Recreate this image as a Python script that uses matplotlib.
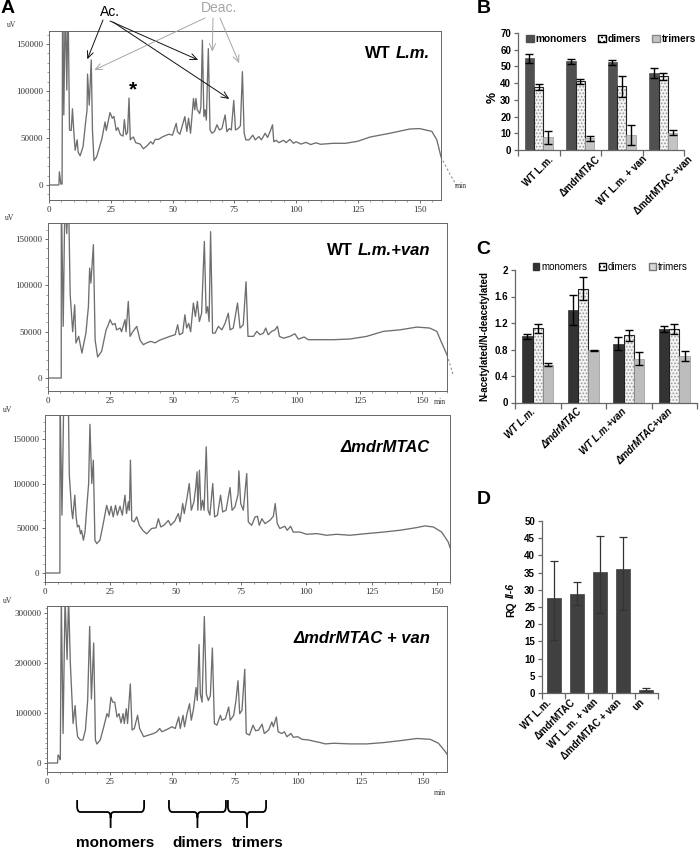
import matplotlib
matplotlib.use('Agg')
import matplotlib.pyplot as plt
import matplotlib.transforms as mtransforms
from matplotlib.patches import Patch, PathPatch
from matplotlib.path import Path
from matplotlib.ticker import MultipleLocator, FormatStrFormatter
import numpy as np

plt.rcParams['font.family'] = ['Liberation Sans', 'DejaVu Sans']
plt.rcParams['hatch.linewidth'] = 0.8

# ---------------- chromatogram data (time in min, signal in uV) ----------------
wt_t = [0, 4.0, 4.2, 4.8, 5.3, 5.5, 6.0, 6.6, 7.2, 7.7, 8.3, 9.0, 9.5, 10.0, 10.6, 11.4, 11.8, 12.6, 13.8, 14.8,
        15.4, 15.6, 16.3, 17.1, 17.6, 18.2, 19.3, 21.4, 22.7, 23.2, 24.7, 25.6, 26.3, 27.2, 27.9, 28.9, 30.0, 30.5,
        31.2, 31.8, 32.4, 32.9, 33.6, 34.2, 35.1, 36.9, 38.2, 39.6, 41.2, 42.1, 43.0, 44.4, 45.8, 47.1, 48.5, 50.0,
        51.5, 52.0, 53.0, 55.0, 55.8, 56.5, 57.3, 58.5, 59.0, 59.5, 60.0, 61.0, 61.5, 62.1, 62.7, 63.2, 63.7, 64.5,
        65.2, 66.0, 67.0, 68.0, 69.0, 70.0, 71.3, 72.0, 73.0, 73.8, 74.8, 75.5, 76.5, 77.5, 78.3, 79.0, 79.7, 81.0,
        82.5, 83.5, 85.0, 86.0, 87.5, 88.5, 89.5, 90.5, 91.0, 92.0, 93.0, 95.0, 96.0, 97.5, 99.0, 100.0, 102.0,
        104.0, 106.0, 108.0, 110.0, 115.0, 120.0, 125.0, 130.0, 138.0, 146.0, 150.0, 155.0, 157.0, 158.7]
wt_uv = [0, 0, 14000, 1000, 1000, 200000, 74500, 200000, 101000, 200000, 58500, 58000, 81000, 58500, 37000, 48000,
         35000, 31000, 41000, 66000, 80000, 118000, 85000, 133000, 58000, 26000, 30000, 49000, 67000, 58000, 77000,
         71000, 73000, 58000, 61000, 53500, 52000, 69500, 53500, 56000, 92500, 48000, 50000, 51000, 45000, 43500,
         38500, 41500, 46000, 43500, 48500, 48500, 51000, 52500, 54000, 53000, 65600, 56700, 54000, 72700, 57000,
         71000, 55000, 92000, 80000, 92000, 80000, 76000, 83000, 154000, 72700, 80000, 69000, 145000, 58500, 55000,
         57000, 64000, 58500, 60000, 74500, 56700, 60000, 58500, 90000, 58500, 60000, 63000, 120500, 55000, 48000,
         48000, 53000, 48000, 51500, 48000, 55000, 50500, 56700, 64000, 46000, 47500, 45000, 47500, 45000, 48500,
         44300, 46000, 43500, 45300, 43000, 44800, 43300, 44300, 44300, 46500, 51000, 55000, 59500, 60000, 57000,
         48000, 30000]
wt_tail_t = [158.7, 162.0, 165.5]
wt_tail_uv = [30000, 13000, -3000]

van_t = [0, 5.3, 5.35, 6.1, 6.8, 7.5, 8.2, 8.9, 9.9, 10.7, 11.2, 12.3, 13.6, 15.2, 16.2, 16.7, 17.2, 18.2, 18.9,
         19.9, 21.5, 23.3, 24.2, 24.9, 25.9, 26.9, 27.5, 28.9, 29.5, 30.9, 31.3, 32.2, 32.9, 34.0, 35.6, 36.9, 38.2,
         39.6, 41.2, 42.9, 44.9, 46.9, 48.9, 51.0, 52.0, 52.7, 54.0, 54.9, 55.6, 56.4, 57.2, 58.3, 59.1, 59.9, 60.7,
         61.6, 62.7, 63.4, 64.0, 64.6, 65.2, 66.0, 67.0, 68.3, 69.7, 71.0, 72.3, 73.0, 74.3, 76.0, 77.0, 78.3, 79.4,
         80.2, 82.4, 83.7, 85.0, 86.4, 87.3, 88.3, 89.7, 91.0, 92.0, 92.8, 94.4, 97.0, 99.0, 100.4, 102.7, 104.4,
         107.8, 114.4, 121.0, 127.8, 134.5, 141.0, 147.9, 153.0, 155.9, 157.9, 160.0]
van_uv = [0, 0, 200000, 55800, 200000, 156000, 200000, 90000, 50000, 79000, 37800, 45000, 27000, 48500, 77000,
          118700, 102500, 144000, 41000, 22700, 28800, 52000, 57500, 63000, 57500, 59000, 52000, 54000, 50000, 63000,
          50000, 82700, 45000, 50000, 55800, 41000, 36000, 38000, 39600, 38000, 41000, 43000, 45000, 46800, 57500,
          46800, 48500, 68300, 54000, 59000, 50000, 81000, 66500, 82700, 61000, 70000, 147500, 70000, 77000, 61000,
          158000, 48500, 48500, 55800, 52000, 59000, 70000, 52000, 54000, 81000, 54000, 57500, 104000, 45000, 45000,
          50400, 46800, 48500, 54000, 46800, 50400, 52000, 55800, 45000, 43000, 45000, 47800, 42000, 44300, 41400,
          41400, 41400, 42100, 45000, 50400, 52000, 55000, 54000, 50400, 37800, 25000]
van_tail_t = [160.0, 161.5, 162.5]
van_tail_uv = [25000, 12000, 3000]

mdr_t = [0, 5.7, 5.75, 6.5, 7.2, 7.9, 8.9, 9.3, 10.2, 10.6, 11.4, 11.9, 12.4, 13.0, 13.6, 14.0, 14.7, 15.3, 16.2,
         16.7, 17.2, 17.9, 18.5, 19.1, 19.8, 21.0, 22.3, 23.6, 24.6, 25.3, 26.1, 27.0, 27.7, 28.7, 29.6, 30.6, 31.2,
         31.9, 32.3, 32.7, 33.2, 34.1, 35.1, 36.1, 37.4, 38.9, 40.8, 42.5, 43.4, 44.3, 45.5, 47.2, 48.1, 49.7, 51.0,
         51.7, 52.7, 53.3, 54.2, 55.2, 56.0, 57.0, 57.7, 58.2, 58.5, 59.1, 59.7, 60.3, 60.9, 61.7, 62.4, 63.1, 64.2,
         64.9, 66.0, 67.2, 68.0, 69.3, 70.8, 71.6, 72.7, 73.9, 74.2, 74.9, 75.9, 77.2, 77.8, 79.1, 80.4, 81.3, 82.0,
         83.0, 84.2, 86.1, 87.4, 88.1, 88.9, 89.9, 91.8, 92.7, 94.0, 95.0, 97.6, 100.1, 104.0, 107.8, 111.6, 116.7,
         123.0, 129.5, 135.8, 142.2, 145.4, 148.6, 151.8, 154.3, 155.6]
mdr_uv = [0, 0, 200000, 65000, 200000, 200000, 200000, 110000, 70500, 61000, 87400, 63000, 51800, 53600, 44000,
          47800, 36800, 46000, 81750, 100500, 167000, 100500, 126700, 36750, 33000, 36750, 55500, 76000, 65000,
          75000, 63000, 76000, 65000, 75000, 65000, 87400, 66750, 80000, 70500, 126750, 59250, 57400, 63000, 53600,
          48000, 44000, 50000, 50800, 61000, 51800, 53600, 59000, 53600, 58500, 66750, 57400, 78000, 66750, 81750,
          100500, 70500, 80000, 96750, 113600, 70500, 115500, 70500, 81750, 70500, 141750, 70500, 65000, 100500,
          63000, 65000, 87400, 68600, 70500, 96000, 70500, 74250, 88500, 114750, 78000, 70500, 111750, 57400, 53600,
          63000, 63750, 53600, 61000, 55500, 59250, 63750, 78000, 55500, 50000, 52500, 48000, 52500, 46000, 46000,
          43500, 44250, 42400, 43500, 42400, 44250, 46000, 48000, 51000, 52900, 51750, 46000, 35000, 23600]

mdrvan_t = [0, 4.2, 4.4, 4.9, 5.3, 5.7, 6.4, 7.2, 8.0, 8.6, 9.3, 10.4, 11.2, 11.7, 12.2, 13.3, 14.3, 15.3, 16.2,
            17.0, 17.7, 18.6, 19.3, 19.9, 21.2, 22.6, 23.9, 24.6, 25.5, 26.2, 27.0, 27.9, 28.7, 29.5, 30.3, 30.8,
            31.6, 32.1, 33.2, 33.9, 34.8, 36.1, 36.9, 38.5, 40.5, 42.5, 43.8, 44.9, 45.8, 47.8, 49.8, 51.1, 52.5,
            53.1, 54.2, 54.8, 55.8, 56.8, 57.5, 58.4, 59.4, 59.9, 60.6, 61.1, 61.8, 62.7, 63.5, 64.3, 65.1, 65.9,
            66.7, 67.7, 69.1, 69.7, 71.1, 72.4, 73.0, 74.4, 75.3, 76.1, 76.8, 77.7, 78.8, 79.4, 80.7, 82.1, 83.1,
            84.3, 85.7, 86.6, 88.3, 89.6, 90.2, 91.4, 92.1, 93.6, 94.6, 95.6, 97.2, 98.2, 99.9, 101.6, 104.3, 107.0,
            108.9, 110.9, 114.2, 120.8, 127.5, 134.1, 140.8, 147.4, 152.7, 156.0, 158.7, 160.0]
mdrvan_uv = [0, 0, 16000, 13000, 6500, 330000, 59000, 330000, 207000, 330000, 200000, 79000, 115000, 75700, 52600,
             46000, 46000, 65800, 125000, 273000, 128000, 240000, 46000, 38000, 46000, 72000, 98700, 92000, 131600,
             121700, 121700, 92000, 98700, 80000, 98700, 79000, 108600, 79000, 158000, 66000, 69000, 95400, 69000,
             52600, 55900, 59000, 62500, 69000, 62500, 67100, 72400, 69000, 92000, 69000, 95400, 72400, 98700,
             118500, 85500, 108600, 151000, 125000, 237000, 138000, 121700, 293000, 138000, 125000, 135000, 230000,
             79000, 75700, 95400, 85500, 88800, 112000, 85500, 95400, 125000, 164500, 98700, 105300, 187500, 59000,
             55900, 75700, 64500, 65800, 77600, 59000, 65800, 82000, 72400, 92000, 62500, 59000, 62500, 52600, 59000,
             51300, 52600, 47400, 46000, 42800, 40800, 38200, 39500, 38200, 38200, 40800, 44700, 49000, 47400, 39500,
             23000, 13000]

time_ticks = [0, 25, 50, 75, 100, 125, 150]

# annotation targets on the first chromatogram (time, uV)
ac_targets = [(15.5, 133700), (60.4, 133000), (73.0, 91500)]
deac_targets = [(18.3, 122300), (66.1, 141800), (77.0, 129500)]
star_pos = (34.0, 101000)

# fraction ranges (min) for braces and label centres (min)
brace_names = ['monomers', 'dimers', 'trimers']
brace_ranges = [(12.0, 38.7), (48.6, 71.3), (72.1, 87.3)]
brace_label_t = [27.3, 60.0, 84.1]

# ---------------- bar chart data ----------------
b_labels = ['WT L.m.', 'ΔmdrMTAC', 'WT L.m. + van', 'ΔmdrMTAC +van']
b_mono = [55.0, 53.0, 52.4, 46.0]
b_mono_err = [2.7, 1.6, 1.5, 3.0]
b_di = [37.6, 41.0, 38.0, 44.0]
b_di_err = [2.0, 1.4, 6.5, 2.0]
b_tri = [7.6, 7.0, 9.0, 10.4]
b_tri_err = [4.0, 1.4, 6.0, 1.5]

c_labels = ['WT L.m.', 'ΔmdrMTAC', 'WT L.m.+van', 'ΔmdrMTAC+van']
c_mono = [1.0, 1.4, 0.89, 1.11]
c_mono_err = [0.035, 0.23, 0.10, 0.05]
c_di = [1.12, 1.72, 1.015, 1.11]
c_di_err = [0.07, 0.18, 0.086, 0.08]
c_tri = [0.57, 0.785, 0.66, 0.70]
c_tri_err = [0.02, 0.01, 0.10, 0.075]

d_labels = ['WT L.m.', 'ΔmdrMTAC', 'WT L.m. + van', 'ΔmdrMTAC + van', 'un']
d_vals = [27.5, 28.8, 35.3, 36.0, 1.0]
d_err_low = [12.0, 3.2, 12.0, 12.0, 0.4]
d_err_high = [11.0, 3.4, 10.4, 9.3, 0.4]

# ---------------- figure ----------------
W, H = 700, 850
fig = plt.figure(figsize=(7, 8.5), dpi=100)
ID = mtransforms.IdentityTransform()


def add_ax(l, r, t, b):
    return fig.add_axes([l / W, 1 - b / H, (r - l) / W, (b - t) / H])


def rich_text(x, y, pieces, fontsize, ha='right', rotation=0, color='black'):
    """x, y in pixels from top-left. pieces: list of (text, fontstyle)."""
    r = fig.canvas.get_renderer()
    gap = 0.28 * fontsize * fig.dpi / 72.0
    objs = []
    for s, st in pieces:
        if rotation == 0:
            o = fig.text(0, 0, s, fontsize=fontsize, fontweight='bold', fontstyle=st,
                         transform=ID, ha='left', va='baseline', color=color)
        else:
            o = fig.text(0, 0, s, fontsize=fontsize, fontweight='bold', fontstyle=st,
                         transform=ID, ha='center', va='bottom', rotation=90, color=color)
        objs.append(o)
    sizes = []
    for o in objs:
        bb = o.get_window_extent(r)
        sizes.append(bb.width if rotation == 0 else bb.height)
    total = sum(sizes) + gap * (len(sizes) - 1)
    if rotation == 0:
        start = x - total if ha == 'right' else x - total / 2
        cur = start
        for o, s in zip(objs, sizes):
            o.set_position((cur, H - y))
            cur += s + gap
    else:
        cur = (H - y) - total / 2
        for o, s in zip(objs, sizes):
            o.set_position((x, cur))
            cur += s + gap


chrom = [
    dict(t=wt_t, uv=wt_uv, tt=wt_tail_t, tuv=wt_tail_uv, box=(49, 441, 31, 200), xmax=158.7,
         ylim=(-16000, 163800), yt=[0, 50000, 100000, 150000],
         title=[('WT', 'normal'), ('L.m.', 'italic')], txy=(430, 58), uvxy=(12, 25), minxy=(461, 186)),
    dict(t=van_t, uv=van_uv, tt=van_tail_t, tuv=van_tail_uv, box=(48, 447, 223, 391), xmax=160.0,
         ylim=(-14000, 167400), yt=[0, 50000, 100000, 150000],
         title=[('WT', 'normal'), ('L.m.+van', 'italic')], txy=(430, 255), uvxy=(10, 218), minxy=(440, 402)),
    dict(t=mdr_t, uv=mdr_uv, tt=None, tuv=None, box=(45, 450, 415, 582), xmax=155.0,
         ylim=(-10100, 177500), yt=[0, 50000, 100000, 150000],
         title=[('ΔmdrMTAC', 'italic')], txy=(430, 452), uvxy=(8, 410), minxy=None),
    dict(t=mdrvan_t, uv=mdrvan_uv, tt=None, tuv=None, box=(47, 447, 606, 772), xmax=159.4,
         ylim=(-18000, 314000), yt=[0, 100000, 200000, 300000],
         title=[('ΔmdrMTAC + van', 'italic')], txy=(430, 643), uvxy=(8, 601), minxy=(440, 793)),
]

line_col = '#6e6e6e'
chrom_axes = []
for c in chrom:
    ax = add_ax(*c['box'])
    chrom_axes.append(ax)
    ax.plot(c['t'], c['uv'], color=line_col, lw=0.95)
    if c['tt'] is not None:
        ax.plot(c['tt'], c['tuv'], color='#909090', lw=0.8, ls=(0, (2, 2)), clip_on=False)
    ax.set_xlim(0, c['xmax'])
    ax.set_ylim(*c['ylim'])
    ax.set_xticks(time_ticks)
    ax.set_yticks(c['yt'])
    ax.xaxis.set_minor_locator(MultipleLocator(5))
    ax.yaxis.set_minor_locator(MultipleLocator(10000))
    ax.yaxis.set_major_formatter(FormatStrFormatter('%d'))
    ax.tick_params(which='major', length=2.5, width=0.6, color='#555555', labelsize=6.5,
                   labelcolor='#333333', pad=1.5)
    ax.tick_params(which='minor', length=1.2, width=0.5, color='#777777')
    for lab in ax.get_xticklabels() + ax.get_yticklabels():
        lab.set_family(['Liberation Serif', 'DejaVu Serif'])
    for s in ax.spines.values():
        s.set_color('#666666')
        s.set_linewidth(0.7)
    fig.text(c['uvxy'][0], H - c['uvxy'][1], 'uV', transform=ID, fontsize=5.5,
             family=['Liberation Serif', 'DejaVu Serif'], ha='center', va='center', color='#333333')
    if c['minxy'] is not None:
        fig.text(c['minxy'][0], H - c['minxy'][1], 'min', transform=ID, fontsize=5.5,
                 family=['Liberation Serif', 'DejaVu Serif'], ha='center', va='center', color='#333333')

# titles inside chromatograms
fig.canvas.draw()
for c in chrom:
    rich_text(c['txy'][0], c['txy'][1], c['title'], 12, ha='right')

# annotations on first chromatogram
ax1 = chrom_axes[0]
fig.text(110, H - 12, 'Ac.', transform=ID, fontsize=10, ha='center', va='center', color='black')
fig.text(219, H - 8, 'Deac.', transform=ID, fontsize=10, ha='center', va='center', color='#a6a6a6')
ac_src = [(103, 20), (110, 21), (113, 22)]
deac_src = [(205, 18), (213, 18), (220, 18)]
for (tx, ty), (sx, sy) in zip(ac_targets, ac_src):
    ax1.annotate('', xy=(tx, ty), xycoords='data', xytext=(sx, H - sy), textcoords='figure pixels',
                 arrowprops=dict(arrowstyle='->,head_length=0.5,head_width=0.22', color='#111111', lw=0.7,
                                 shrinkA=0, shrinkB=0), annotation_clip=False)
for (tx, ty), (sx, sy) in zip(deac_targets, deac_src):
    ax1.annotate('', xy=(tx, ty), xycoords='data', xytext=(sx, H - sy), textcoords='figure pixels',
                 arrowprops=dict(arrowstyle='->,head_length=0.5,head_width=0.22', color='#a6a6a6', lw=0.7,
                                 shrinkA=0, shrinkB=0), annotation_clip=False)
ax1.text(star_pos[0], star_pos[1], '*', fontsize=15, fontweight='bold', ha='center', va='center')

# braces under last chromatogram
ax4 = chrom_axes[3]
btr = mtransforms.blended_transform_factory(ax4.transData, ax4.transAxes)
ytop, ymid, ytip, dd = -0.169, -0.241, -0.337, 0.035
for name, (x0, x1), lt in zip(brace_names, brace_ranges, brace_label_t):
    xc = (x0 + x1) / 2
    d = 1.3
    verts = [(x0, ytop), (x0, ymid + dd), (x0, ymid), (x0 + d, ymid), (xc - d, ymid), (xc, ymid),
             (xc, ymid - dd), (xc, ytip),
             (xc, ymid - dd), (xc, ymid), (xc + d, ymid), (x1 - d, ymid), (x1, ymid), (x1, ymid + dd), (x1, ytop)]
    codes = [Path.MOVETO, Path.LINETO, Path.CURVE3, Path.CURVE3, Path.LINETO, Path.CURVE3, Path.CURVE3,
             Path.LINETO,
             Path.MOVETO, Path.CURVE3, Path.CURVE3, Path.LINETO, Path.CURVE3, Path.CURVE3, Path.LINETO]
    pp = PathPatch(Path(verts, codes), transform=btr, fill=False, lw=1.3, edgecolor='black', clip_on=False)
    ax4.add_patch(pp)
    ax4.text(lt, -0.428, name, transform=btr, ha='center', va='center', fontsize=11, fontweight='bold')

# ---------------- panel labels ----------------
for lab, (px, py) in zip(['A', 'B', 'C', 'D'], [(1, 0), (477, 0), (476, 241), (477, 491)]):
    fig.text(px, H - py, lab, transform=ID, fontsize=14, fontweight='bold', ha='left', va='top')

mono_col_b = '#505050'
tri_col = '#c4c4c4'


def style_bar_axes(ax, n):
    for s in ['top', 'right']:
        ax.spines[s].set_visible(False)
    for s in ['left', 'bottom']:
        ax.spines[s].set_color('#666666')
        ax.spines[s].set_linewidth(0.9)
    ax.set_xlim(-0.5, n - 0.5)
    ax.set_xticks(np.arange(n))
    ax.set_xticks(np.arange(-0.5, n), minor=True)
    ax.tick_params(axis='x', which='major', length=0, pad=3)
    ax.tick_params(axis='x', which='minor', length=4, width=0.9, color='#666666')
    ax.tick_params(axis='y', length=3, width=0.9, color='#666666', labelsize=7, pad=2)
    for lab in ax.get_yticklabels():
        lab.set_fontweight('bold')


def dotted_bars(ax, x, v, w):
    ax.bar(x, v, w, color='#f4f4f4', edgecolor='#9a9a9a', hatch='.....', lw=0)
    ax.bar(x, v, w, fill=False, edgecolor='#222222', lw=0.8)


ekw = dict(fmt='none', ecolor='black', elinewidth=1.0, capsize=3, capthick=1.0)

# ---------------- panel B ----------------
axb = add_ax(518, 684, 33, 150)
xb = np.arange(len(b_labels))
wb = 0.225
axb.bar(xb - wb, b_mono, wb, color=mono_col_b, edgecolor=mono_col_b, lw=0.5)
dotted_bars(axb, xb, b_di, wb)
axb.bar(xb + wb, b_tri, wb, color=tri_col, edgecolor='#999999', lw=0.5)
axb.errorbar(xb - wb, b_mono, yerr=b_mono_err, **ekw)
axb.errorbar(xb, b_di, yerr=b_di_err, **ekw)
axb.errorbar(xb + wb, b_tri, yerr=b_tri_err, **ekw)
axb.set_ylim(0, 70)
axb.set_yticks(range(0, 71, 10))
style_bar_axes(axb, 4)
axb.set_xticklabels(b_labels, rotation=45, ha='center', fontsize=7, fontweight='bold')
fig.text(493, H - 97, '%', transform=ID, fontsize=9, fontweight='bold', rotation=90, ha='center', va='center')
hb = [Patch(facecolor=mono_col_b, edgecolor=mono_col_b),
      Patch(facecolor='white', edgecolor='black', hatch='....'),
      Patch(facecolor=tri_col, edgecolor='#888888')]
axb.legend(hb, ['monomers', 'dimers', 'trimers'], loc='center', bbox_to_anchor=(611 / W, 1 - 39 / H),
           bbox_transform=fig.transFigure, ncol=3, frameon=False, handlelength=0.8, handleheight=0.8,
           handletextpad=0.15, columnspacing=1.1, borderpad=0, prop=dict(weight='bold', size=7.3))

# ---------------- panel C ----------------
axc = add_ax(515, 697, 270, 402.5)
xc_ = np.arange(len(c_labels))
wc = 0.227
mono_col_c = '#333333'
axc.bar(xc_ - wc, c_mono, wc, color=mono_col_c, edgecolor=mono_col_c, lw=0.5)
dotted_bars(axc, xc_, c_di, wc)
axc.bar(xc_ + wc, c_tri, wc, color='#bdbdbd', edgecolor='#999999', lw=0.5)
axc.errorbar(xc_ - wc, c_mono, yerr=c_mono_err, **ekw)
axc.errorbar(xc_, c_di, yerr=c_di_err, **ekw)
axc.errorbar(xc_ + wc, c_tri, yerr=c_tri_err, **ekw)
axc.set_ylim(0, 2)
axc.set_yticks([0, 0.4, 0.8, 1.2, 1.6, 2])
axc.set_yticklabels(['0', '0.4', '0.8', '1.2', '1.6', '2'])
style_bar_axes(axc, 4)
axc.set_xticklabels(c_labels, rotation=45, ha='right', fontsize=7, fontweight='bold', fontstyle='italic')
fig.text(484, H - 336, 'N-acetylated/N-deacetylated', transform=ID, fontsize=7, fontweight='bold',
         rotation=90, ha='center', va='center')
hc = [Patch(facecolor=mono_col_c, edgecolor=mono_col_c),
      Patch(facecolor='white', edgecolor='black', hatch='....'),
      Patch(facecolor='#d8d8d8', edgecolor='#777777')]
axc.legend(hc, ['monomers', 'dimers', 'trimers'], loc='center', bbox_to_anchor=(610 / W, 1 - 267 / H),
           bbox_transform=fig.transFigure, ncol=3, frameon=False, handlelength=0.7, handleheight=0.7,
           handletextpad=0.2, columnspacing=1.2, borderpad=0, prop=dict(size=7))

# ---------------- panel D ----------------
axd = add_ax(542, 658, 521, 693)
xd = np.arange(len(d_labels))
axd.bar(xd, d_vals, 0.6, color='#404040', edgecolor='#404040', lw=0.5)
axd.errorbar(xd, d_vals, yerr=[d_err_low, d_err_high], fmt='none', ecolor='#333333', elinewidth=0.9,
             capsize=3, capthick=0.9)
axd.set_ylim(0, 50)
axd.set_yticks(range(0, 51, 5))
style_bar_axes(axd, 5)
axd.set_xticklabels(d_labels, rotation=45, ha='right', fontsize=7, fontweight='bold')
rich_text(511, 600, [('RQ', 'normal'), ('Il-6', 'italic')], 7.5, rotation=90)

fig.savefig('out.png', dpi=100)
